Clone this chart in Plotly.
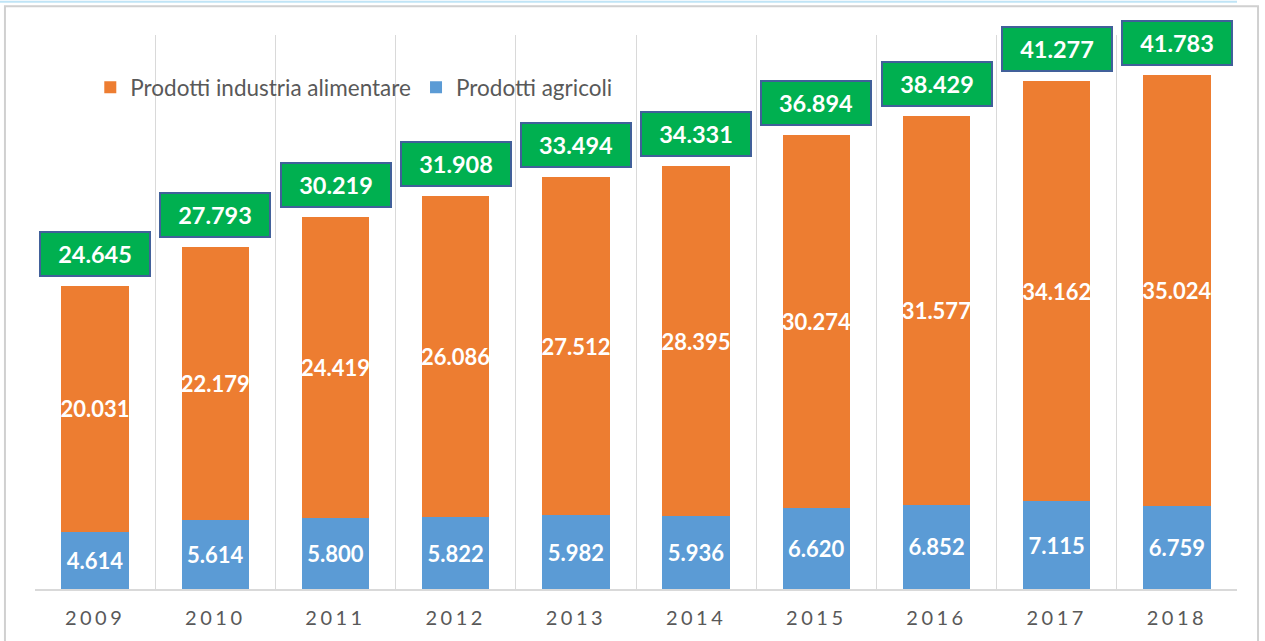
import plotly.graph_objects as go

# Dati (valori in migliaia, formato italiano con il punto come separatore)
anni = ["2009", "2010", "2011", "2012", "2013", "2014", "2015", "2016", "2017", "2018"]
agricoli = [4614, 5614, 5800, 5822, 5982, 5936, 6620, 6852, 7115, 6759]
industria = [20031, 22179, 24419, 26086, 27512, 28395, 30274, 31577, 34162, 35024]
totali = [24645, 27793, 30219, 31908, 33494, 34331, 36894, 38429, 41277, 41783]

BLU = "#5B9BD5"
ARANCIO = "#ED7D31"
VERDE = "#00B050"
GRIGIO = "#595959"
FONT = "Lato"

fig = go.Figure()

fig.add_trace(go.Bar(
    x=anni, y=agricoli, name="Prodotti agricoli",
    marker=dict(color=BLU, line=dict(width=0)),
    texttemplate="%{y:,.0f}", textposition="inside", insidetextanchor="middle",
    constraintext="none", textangle=0,
    textfont=dict(family=FONT, size=22, color="white", weight=700),
))
fig.add_trace(go.Bar(
    x=anni, y=industria, name="Prodotti industria alimentare",
    marker=dict(color=ARANCIO, line=dict(width=0)),
    texttemplate="%{y:,.0f}", textposition="inside", insidetextanchor="middle",
    constraintext="none", textangle=0,
    textfont=dict(family=FONT, size=22, color="white", weight=700),
))

# etichette dei totali nei riquadri verdi (x = indice della categoria)
for i, tot in enumerate(totali):
    fig.add_annotation(
        x=i, y=tot, xref="x", yref="y", yanchor="bottom", yshift=9,
        text=f"{tot:,}".replace(",", "."),
        showarrow=False,
        font=dict(family=FONT, size=23.5, color="white", weight=700),
        bgcolor=VERDE, bordercolor="#41609A", borderwidth=2,
        width=106, height=40,
    )

# cornice esterna
fig.add_shape(type="rect", xref="paper", yref="paper",
              x0=-0.025, x1=1.0175, y0=-0.2, y1=1.052,
              line=dict(color="#D0D0D0", width=2), layer="below")
fig.add_shape(type="line", xref="paper", yref="paper",
              x0=-0.03, x1=1.0, y0=1.06, y1=1.06,
              line=dict(color="#BFE4F6", width=2), layer="below")

fig.update_layout(
    width=1265, height=641,
    barmode="stack", bargap=0.44,
    separators=",.",
    plot_bgcolor="white", paper_bgcolor="white",
    margin=dict(l=35, r=28, t=35, b=52),
    font=dict(family=FONT, color=GRIGIO),
    showlegend=True,
    legend=dict(
        orientation="h", traceorder="reversed",
        x=0.046, y=0.905, xanchor="left", yanchor="middle",
        font=dict(family=FONT, size=22.5, color=GRIGIO),
        bgcolor="rgba(0,0,0,0)",
    ),
    xaxis=dict(
        type="category", tickson="boundaries",
        showgrid=True, gridcolor="#D9D9D9", gridwidth=1,
        showline=True, linecolor="#D9D9D9", linewidth=2,
        ticks="", ticklabelstandoff=10,
        tickfont=dict(family=FONT, size=20, color=GRIGIO),
        range=[-0.5, 9.5],
    ),
    yaxis=dict(
        range=[0, 45000], showgrid=False, zeroline=False,
        showticklabels=False, showline=False,
    ),
)

post = """
document.body.style.margin='0';
document.querySelectorAll('.xtick text').forEach(function(t){t.style.letterSpacing='3.5px';});
"""
fig.write_html("out.html", post_script=post, config={"displayModeBar": False})
